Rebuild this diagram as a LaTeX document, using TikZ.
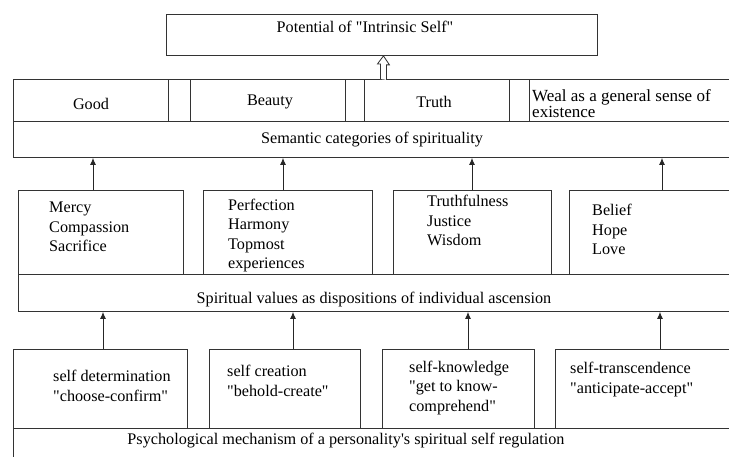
\documentclass[tikz,border=0pt]{standalone}
\usepackage{fontspec}
\newfontfamily\tnr{Liberation Serif}
\usetikzlibrary{arrows.meta}
\begin{document}
\begin{tikzpicture}[x=1pt,y=-1pt,
  box/.style={draw=black!80,line width=0.9pt,inner sep=0,anchor=north west},
  lbl/.style={inner sep=0,anchor=base,font=\tnr\fontsize{16.2}{19.5}\selectfont},
  lst/.style={lbl,align=left,anchor=base west},
  arr/.style={draw=black!85,line width=0.9pt,-{Latex[length=7pt,width=6pt]}}]
\useasboundingbox (0,0) rectangle (729,457);
\clip (0,0) rectangle (729,457);
% top
\node[box,minimum width=431,minimum height=41] (top) at (166,14) {};
\node[lbl] (toptxt) at (365,33) {Potential of "Intrinsic Self"};
% row 1
\node[box,minimum width=155,minimum height=42] (good) at (13,79) {};
\node[box,minimum width=22,minimum height=42] (g1) at (168,79) {};
\node[box,minimum width=155,minimum height=42] (beauty) at (190,79) {};
\node[box,minimum width=19,minimum height=42] (g2) at (345,79) {};
\node[box,minimum width=145,minimum height=42] (truth) at (364,79) {};
\node[box,minimum width=20,minimum height=42] (g3) at (509,79) {};
\node[box,minimum width=214,minimum height=42] (weal) at (529,79) {};
\node[lbl] (goodt) at (91,110) {Good};
\node[lbl] (beautyt) at (270,106) {Beauty};
\node[lbl] (trutht) at (434,108) {Truth};
\node[lst,font=\tnr\fontsize{17}{16}\selectfont] (wealt) at (532,118) {Weal as a general sense of\\existence};
\node[box,minimum width=730,minimum height=36] (sem) at (13,121) {};
\node[lbl] (semt) at (372,144) {Semantic categories of spirituality};
% hollow arrow from row 1 up to the top box
\coordinate (hatip) at ([xshift=1.5pt]top.south);
\draw[draw=black!80,line width=0.8pt,fill=white]
  ([xshift=-3pt]hatip |- good.north) -- ++(0,-15) -- ++(-3,0) -- (hatip) -- ++(6,9) -- ++(-3,0) -- ++(0,15);
% level 2
\node[box,minimum width=165,minimum height=84] (mercy) at (18,190) {};
\node[box,minimum width=169,minimum height=84] (perf) at (203,190) {};
\node[box,minimum width=158,minimum height=84] (truthf) at (393,190) {};
\node[box,minimum width=174,minimum height=84] (belief) at (569,190) {};
\node[lst] (mercyt) at (49,252) {Mercy\\Compassion\\Sacrifice};
\node[lst] (perft) at (228,269) {Perfection\\Harmony\\Topmost\\experiences};
\node[lst] (truthft) at (427,246) {Truthfulness\\Justice\\Wisdom};
\node[lst] (belieft) at (592,255) {Belief\\Hope\\Love};
\node[box,minimum width=725,minimum height=37] (spirit) at (18,274) {};
\node[lbl] (spiritt) at (374,304) {Spiritual values as dispositions of individual ascension};
\draw[arr] ([xshift=75pt]mercy.north west) -- ([xshift=75pt]mercy.north west |- sem.south);
\draw[arr] ([xshift=80pt]perf.north west) -- ([xshift=80pt]perf.north west |- sem.south);
\draw[arr] ([xshift=79pt]truthf.north west) -- ([xshift=79pt]truthf.north west |- sem.south);
\draw[arr] ([xshift=93pt]belief.north west) -- ([xshift=93pt]belief.north west |- sem.south);
% level 3
\node[box,minimum width=174,minimum height=79] (sd) at (13,349) {};
\node[box,minimum width=151,minimum height=79] (sc) at (209,349) {};
\node[box,minimum width=152,minimum height=79] (sk) at (382,349) {};
\node[box,minimum width=188,minimum height=79] (st) at (555,349) {};
\node[lst] (sdt) at (53,401) {self determination\\"choose-confirm"};
\node[lst] (sct) at (227,396) {self creation\\"behold-create"};
\node[lst] (skt) at (409,411) {self-knowledge\\"get to know-\\comprehend"};
\node[lst] (stt) at (570,393) {self-transcendence\\"anticipate-accept"};
\node[box,minimum width=730,minimum height=40] (psych) at (13,428) {};
\node[lbl] (psycht) at (346,444) {Psychological mechanism of a personality's spiritual self regulation};
\draw[arr] ([xshift=90pt]sd.north west) -- ([xshift=90pt]sd.north west |- spirit.south);
\draw[arr] ([xshift=84pt]sc.north west) -- ([xshift=84pt]sc.north west |- spirit.south);
\draw[arr] ([xshift=86pt]sk.north west) -- ([xshift=86pt]sk.north west |- spirit.south);
\draw[arr] ([xshift=105pt]st.north west) -- ([xshift=105pt]st.north west |- spirit.south);
\end{tikzpicture}
\end{document}
